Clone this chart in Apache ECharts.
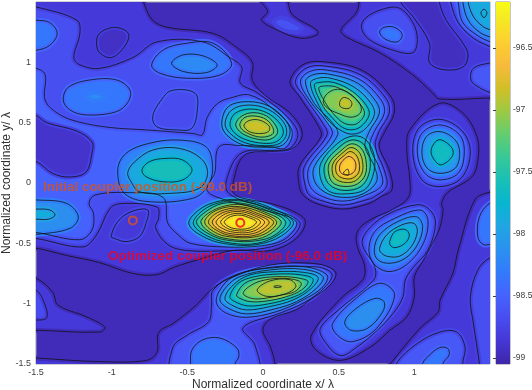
<!DOCTYPE html>
<html><head><meta charset="utf-8">
<style>html,body{margin:0;padding:0;background:#fff}#c{width:532px;height:390px}</style>
<script src="https://cdn.jsdelivr.net/npm/echarts@6/dist/echarts.min.js"></script>
</head><body><div id="c"></div>
<script>
// value scale of the colour bar
const scaleMin = -99.05, scaleMax = -96.13;
const colourTicks = [-99, -98.5, -98, -97.5, -97, -96.5];
const xTickLabels = [-1.5, -1, -0.5, 0, 0.5, 1];
const yTickLabels = [-1.5, -1, -0.5, 0, 0.5, 1];
const parulaStops = [[0,'#3e26a8'],[.0635,'#4537d5'],[.127,'#484df0'],[.19,'#4563fd'],[.254,'#327bfc'],[.317,'#2b91ef'],[.381,'#20a5e3'],[.444,'#08b5d0'],[.508,'#19bfb6'],[.571,'#37c897'],[.635,'#63cd6f'],[.698,'#9dc943'],[.762,'#d1bf27'],[.825,'#f8ba3d'],[.889,'#fccf30'],[.952,'#f5e924'],[1,'#f9fb15']];
const backgroundLevel = -98.98;
const couplers = [
  {name:'Initial coupler position (-99.0 dB)', at:[-0.86,-0.31], label:[-1.454,-0.033], color:'#d95319'},
  {name:'Optimized coupler position (-96.0 dB)', at:[-0.15,-0.33], label:[-1.025,-0.605], color:'#f00020'}
];
// contours: [level, [x,y, x,y, ...] in normalized coordinates, kind]
// kind: 'h' = closed low pocket, 's' = colour band without a drawn line
const lowRegions = [
 [-98.9,[-.81,1.58,-.79,1.5,-.73,1.35,-.63,1.29,-.33,1.24,-.17,1.12,-.07,1,-.07,.85,.03,.71,.18,.58,.26,.41,.2,.29,.05,.26,-.09,.25,-.15,.19,-.19,.04,-.2,-.07,-.15,-.12,.05,-.17,.21,-.24,.28,-.32,.22,-.46,.05,-.56,-.2,-.56,-.44,-.64,-.59,-.7,-.7,-.76,-.86,-.75,-1.08,-.66,-1.3,-.6,-1.5,-.54,-1.61,-.54,-1.61,1.58]],
 [-98.9,[-1.61,-1.44,-1.5,-1.45,-1.08,-1.48,-.77,-1.47,-.70,-1.4,-.69,-1.24,-.59,-1.16,-.44,-1.01,-.33,-.87,-.2,-.78,.046,-.68,.357,-.67,.48,-.74,.44,-.85,.31,-.97,.22,-1.05,.046,-1.13,0,-1.22,.05,-1.36,.08,-1.5,.08,-1.6,-1.61,-1.6]],
 [-98.9,[-1.61,-.79,-1.5,-.79,-1.39,-.904,-1.355,-1.011,-1.164,-1.11,-1.045,-1.194,-1.078,-1.235,-1.5,-1.22,-1.61,-1.22]],
 [-98.9,[-.01,1.55,-.01,1.5,.03,1.42,-.01,1.35,.09,1.27,.245,1.2,.357,1.227,.357,1.268,.198,1.39,.165,1.5,.165,1.55]],
 [-98.9,[.635,1.58,.635,1.5,.615,1.41,.515,1.27,.55,1.21,.77,1.08,.99,.895,1.12,.746,1.165,.696,1.5,.705,1.57,.705,1.57,1.58]],
 [-98.95,[.91,1.58,.91,1.5,.99,1.38,1.1,1.16,1.1,1,1.19,.94,1.32,.96,1.355,1.06,1.32,1.16,1.21,1.35,1.165,1.5,1.165,1.58],'h'],
 [-98.9,[1.165,.66,1.32,.58,1.415,.38,1.42,.19,1.38,.05,1.22,-.08,1.18,-.17,1.19,-.22,1.17,-.365,1.12,-.5,1.06,-.64,1,-.78,1,-.945,.95,-1.11,.84,-1.22,.71,-1.36,.51,-1.47,.35,-1.385,.32,-1.26,.515,-.955,.66,-.8,.67,-.68,.63,-.555,.615,-.45,.64,-.37,.73,-.29,.84,-.23,.96,-.12,.97,.025,.95,.27,.97,.44]],
 [-98.9,[1.5,-.075,1.4,-.14,1.29,-.555,1.255,-.746,1.17,-.97,1.157,-1.07,1.04,-1.2,.84,-1.5,.79,-1.59,1.57,-1.59,1.57,-.075]],
 [-98.7,[.07,1.335,.13,1.37,.26,1.285,.22,1.25,.13,1.27],'s']
];
const leftRegions = [
 [-98.72,[-1.61,1.48,-1.5,1.46,-1.23,1.35,-1.21,1.24,-1.25,1.04,-1.21,.98,-1.08,.95,-.86,1.04,-.7,1.17,-.4,1.17,-.22,1.04,-.14,.96,-.15,.83,-.04,.75,.16,.55,.23,.41,.18,.29,.05,.27,-.09,.27,-.17,.22,-.23,.07,-.24,-.06,-.15,-.14,-.01,-.19,.24,-.32,.18,-.46,.01,-.54,-.22,-.56,-.5,-.56,-.63,-.51,-.71,-.37,-.69,-.29,-.7,-.2,-.93,-.17,-1.01,-.21,-1.1,-.43,-1.19,-.53,-1.5,-.46,-1.61,-.46]],
 [-98.4,[-1.61,1.37,-1.5,1.35,-1.41,1.33,-1.36,1.24,-1.41,1.14,-1.5,1.1,-1.61,1.1]],
 [-98.56,[-1.61,.95,-1.5,.95,-1.44,.9,-1.44,.69,-1.36,.58,-1.23,.51,-1.01,.46,-.77,.44,-.46,.41,-.4,.4,-.37,.54,-.3,.66,-.2,.71,-.09,.73,.05,.63,.19,.44,.15,.29,.05,.3,-.15,.31,-.29,.3,-.32,.08,-.37,-.06,-.25,-.14,-.01,-.22,.22,-.32,.15,-.46,-.01,-.52,-.25,-.53,-.48,-.5,-.56,-.43,-.63,-.33,-.66,-.12,-.88,-.08,-1.11,-.1,-1.15,-.17,-1.12,-.25,-1.13,-.39,-1.21,-.47,-1.5,-.41,-1.61,-.41]],
 [-98.9,[-1.6,.6,-1.5,.56,-1.43,.5,-1.23,.43,-1.13,.34,-1.13,.25,-1.17,.09,-1.28,.05,-1.39,.08,-1.5,.18,-1.6,.2],'h'],
 [-98.93,[-1.1,1.16,-1.08,1.24,-.98,1.29,-.89,1.24,-.91,1.14,-1,1.04,-1.08,1.08],'h'],
 [-98.85,[-1.004,-.445,-.96,-.32,-.872,-.238,-.762,-.224,-.773,-.334,-.817,-.445,-.905,-.486,-.982,-.459],'h'],
 [-98.7,[-.729,.55,-.68,.674,-.604,.766,-.449,.744,-.434,.605,-.471,.453,-.57,.44,-.703,.467],'h'],
 [-98.4,[-1.32,.688,-1.287,.793,-1.143,.854,-.967,.854,-.879,.771,-.89,.674,-.967,.592,-1.165,.564,-1.276,.605]],
 [-98.22,[-1.165,.716,-1.11,.749,-1.044,.716,-1.11,.68],'s'],
 [-98.4,[-.736,.978,-.659,1.103,-.504,1.158,-.328,1.158,-.207,.992,-.284,.895,-.504,.868,-.68,.909]],
 [-98.25,[-.604,.993,-.527,1.062,-.395,1.053,-.303,.979,-.373,.915,-.527,.924]],
 [-98.2,[-1.6,-.14,-1.5,-.14,-1.297,-.169,-1.22,-.28,-1.275,-.376,-1.5,-.426,-1.6,-.426]],
 [-97.9,[-1.6,-.216,-1.5,-.216,-1.407,-.224,-1.374,-.266,-1.418,-.3,-1.5,-.3,-1.6,-.3]],
 [-98.75,[-1.61,-.887,-1.5,-.887,-1.44,-1.011,-1.43,-1.119,-1.5,-1.136,-1.61,-1.136]]
];
const coupledPeak = [
 [-98.3,[-.96,.108,-.905,.246,-.751,.329,-.553,.356,-.377,.301,-.333,.135,-.366,-.03,-.465,-.127,-.751,-.155,-.916,-.086]],
 [-97.95,[-.894,.086,-.85,.174,-.729,.273,-.553,.287,-.41,.204,-.366,.08,-.421,-.044,-.619,-.086,-.817,-.072,-.872,.011]],
 [-97.65,[-.8,.108,-.751,.177,-.641,.204,-.531,.191,-.469,.108,-.531,.025,-.663,.011,-.773,.052]]
];
const upperMidPeak = [
 [-98.15,[-.273,.494,-.229,.633,-.097,.674,.046,.633,.156,.508,.178,.41,.13,.315,.024,.296,-.13,.315,-.24,.398]],
 [-97.9,[-.251,.494,-.207,.605,-.097,.646,.035,.61,.134,.508,.156,.41,.112,.329,.013,.309,-.12,.334,-.218,.412]],
 [-97.65,[-.218,.494,-.185,.577,-.086,.613,.024,.583,.112,.494,.134,.41,.09,.343,.002,.329,-.12,.362,-.196,.425]],
 [-97.4,[-.18,.494,-.14,.555,-.064,.583,.024,.555,.086,.472,.095,.41,.046,.362,-.03,.362,-.12,.398,-.167,.445]],
 [-97.15,[-.152,.494,-.119,.544,-.053,.555,.02,.527,.064,.461,.068,.412,.024,.384,-.037,.384,-.108,.417,-.145,.453]],
 [-96.9,[-.126,.48,-.086,.52,-.02,.52,.042,.47,.035,.425,-.03,.41,-.097,.43]]
];
const centralPeak = [
 [-98,[-.49,-.34,-.42,-.22,-.29,-.15,-.13,-.14,.04,-.2,.2,-.32,.12,-.44,-.04,-.51,-.21,-.51,-.37,-.46]],
 [-97.75,[-.46,-.34,-.4,-.23,-.28,-.16,-.13,-.15,.02,-.21,.18,-.32,.1,-.43,-.04,-.5,-.2,-.5,-.35,-.45]],
 [-97.5,[-.44,-.33,-.38,-.24,-.27,-.17,-.13,-.17,.01,-.22,.15,-.32,.08,-.43,-.05,-.48,-.2,-.48,-.33,-.44]],
 [-97.25,[-.41,-.33,-.36,-.25,-.25,-.19,-.13,-.18,-.01,-.23,.12,-.32,.05,-.42,-.06,-.47,-.19,-.47,-.32,-.43]],
 [-97,[-.385,-.33,-.34,-.25,-.24,-.2,-.13,-.2,-.02,-.24,.09,-.32,.03,-.41,-.07,-.45,-.19,-.45,-.3,-.42]],
 [-96.8,[-.36,-.33,-.32,-.26,-.23,-.215,-.135,-.21,-.04,-.25,.07,-.32,.01,-.4,-.08,-.44,-.185,-.44,-.28,-.41]],
 [-96.65,[-.335,-.33,-.3,-.27,-.225,-.23,-.14,-.225,-.05,-.26,.04,-.32,-.01,-.39,-.09,-.425,-.18,-.425,-.27,-.4]],
 [-96.5,[-.31,-.33,-.276,-.276,-.214,-.242,-.14,-.239,-.065,-.267,.01,-.32,-.03,-.379,-.098,-.41,-.177,-.41,-.25,-.388]],
 [-96.4,[-.28,-.328,-.254,-.285,-.2,-.256,-.142,-.254,-.08,-.277,-.017,-.32,-.05,-.37,-.107,-.395,-.172,-.395,-.234,-.377]],
 [-96.3,[-.256,-.327,-.234,-.292,-.193,-.27,-.144,-.267,-.094,-.286,-.043,-.321,-.07,-.36,-.116,-.381,-.168,-.381,-.218,-.367]]
];
const twinPeak = [
 [-98.9,[.178,.841,.262,.979,.394,1.006,.658,.932,.845,.717,.867,.579,.8,.413,.768,.303,.834,.109,.852,-.056,.779,-.114,.702,-.169,.526,-.216,.35,-.169,.266,-.1,.24,-.029,.24,.137,.383,.385,.361,.482,.24,.717]],
 [-98.65,[.214,.841,.284,.951,.405,.97,.647,.896,.812,.703,.834,.579,.768,.427,.742,.303,.801,.109,.817,-.029,.736,-.114,.68,-.141,.526,-.183,.372,-.141,.306,-.1,.28,-.029,.273,.137,.423,.399,.394,.496,.273,.717]],
 [-98.4,[.247,.841,.306,.923,.416,.937,.637,.86,.78,.689,.802,.579,.736,.427,.707,.303,.769,.123,.787,-.015,.68,-.1,.526,-.15,.372,-.1,.306,-.015,.306,.137,.456,.399,.427,.496,.306,.689]],
 [-98.15,[.28,.841,.328,.896,.427,.904,.626,.827,.747,.675,.769,.579,.703,.427,.674,.303,.736,.137,.751,.013,.66,-.09,.55,-.12,.43,-.09,.346,0,.339,.137,.493,.399,.46,.496,.339,.661]],
 [-97.9,[.313,.827,.361,.868,.449,.868,.603,.794,.713,.661,.736,.565,.669,.441,.596,.405,.527,.427,.438,.51,.372,.634]],
 [-97.65,[.339,.813,.383,.835,.471,.832,.592,.758,.68,.648,.702,.565,.647,.468,.588,.441,.526,.46,.46,.537,.398,.634]],
 [-97.4,[.368,.786,.412,.805,.487,.794,.582,.73,.654,.634,.67,.565,.626,.496,.582,.482,.527,.501,.472,.565,.421,.648]],
 [-97.15,[.398,.675,.427,.744,.493,.777,.57,.744,.643,.648,.643,.579,.581,.545,.493,.579,.427,.62]],
 [-96.9,[.508,.675,.53,.708,.57,.694,.588,.656,.57,.62,.53,.62,.508,.639]],
 [-97.8,[.597,.39,.68,.358,.736,.22,.725,.054,.67,-.056,.549,-.09,.438,-.07,.383,.027,.383,.165,.494,.33]],
 [-97.5,[.588,.357,.663,.325,.707,.206,.698,.068,.648,-.029,.549,-.062,.46,-.034,.412,.04,.412,.165,.509,.303]],
 [-97.2,[.586,.325,.648,.289,.68,.192,.676,.068,.625,-.007,.549,-.029,.471,-.007,.438,.054,.438,.165,.522,.275]],
 [-96.95,[.581,.294,.632,.261,.658,.178,.654,.082,.61,.018,.549,.004,.486,.027,.46,.076,.464,.165,.53,.253]],
 [-96.75,[.574,.261,.614,.234,.636,.165,.632,.087,.592,.04,.549,.035,.504,.054,.482,.095,.486,.165,.537,.228]],
 [-96.55,[.57,.22,.603,.192,.614,.142,.603,.095,.57,.068,.537,.068,.509,.095,.509,.15,.537,.198]],
 [-96.4,[.531,.082,.56,.115,.566,.068]]
];
const bottomPeak = [
 [-98.65,[-.595,-1.59,-.595,-1.36,-.5,-1.26,-.36,-1.15,-.34,-1.01,-.33,-.887,-.185,-.763,.046,-.705,.357,-.696,.456,-.754,.41,-.862,.278,-.987,.112,-1.078,-.132,-1.2,-.053,-1.343,-.04,-1.59]],
 [-98.4,[-.48,-1.6,-.48,-1.5,-.47,-1.385,-.4,-1.3,-.284,-1.285,-.172,-1.368,-.16,-1.44,-.185,-1.5,-.185,-1.6]],
 [-98.4,[-.307,-.997,-.285,-.887,-.197,-.776,.001,-.707,.265,-.693,.423,-.762,.397,-.859,.265,-.969,.089,-1.066,-.109,-1.113,-.241,-1.08]],
 [-98.15,[-.285,-.969,-.241,-.859,-.153,-.776,.045,-.721,.265,-.715,.397,-.776,.353,-.873,.221,-.983,.067,-1.047,-.109,-1.085,-.23,-1.038]],
 [-97.9,[-.252,-.956,-.197,-.845,-.087,-.762,.089,-.735,.265,-.74,.364,-.782,.32,-.873,.199,-.969,.045,-1.024,-.109,-1.052,-.208,-1.011]],
 [-97.65,[-.219,-.942,-.164,-.831,-.054,-.776,.111,-.754,.254,-.762,.331,-.798,.287,-.887,.177,-.956,.034,-1.002,-.098,-1.019,-.186,-.983]],
 [-97.4,[-.175,-.928,-.12,-.831,-.021,-.79,.122,-.776,.243,-.79,.298,-.818,.254,-.887,.155,-.942,.023,-.978,-.087,-.983,-.153,-.956]],
 [-97.15,[-.131,-.914,-.076,-.845,.012,-.804,.133,-.79,.232,-.809,.254,-.84,.21,-.9,.122,-.928,.012,-.956,-.076,-.956]],
 [-96.95,[-.039,-.887,.045,-.812,.177,-.801,.217,-.859,.144,-.92,.023,-.939]],
 [-96.9,[.071,-.859,.093,-.851,.122,-.859,.093,-.867]]
];
const rightPeaks = [
 [-98.65,[.655,-.5,.71,-.365,.84,-.25,1.02,-.18,1.1,-.22,1.14,-.33,1.09,-.555,.99,-.705,.94,-.805,.925,-.945,.86,-1.08,.755,-1.22,.62,-1.36,.51,-1.43,.4,-1.3,.38,-1.2,.51,-1.04,.73,-.805,.74,-.7]],
 [-98.4,[.7,-.555,.74,-.4,.87,-.293,1.04,-.224,1.09,-.307,1.06,-.5,.96,-.665,.84,-.734,.74,-.68]],
 [-98.15,[.735,-.555,.77,-.43,.89,-.32,1.015,-.28,1.055,-.362,1.02,-.514,.94,-.624,.84,-.665,.76,-.638]],
 [-97.9,[.77,-.541,.817,-.43,.916,-.348,.997,-.334,1.02,-.403,.98,-.527,.905,-.605,.83,-.61,.784,-.583]],
 [-97.7,[.84,-.472,.872,-.403,.938,-.384,.967,-.431,.938,-.5,.872,-.536,.84,-.514]],
 [-98.4,[.46,-1.163,.49,-1.26,.59,-1.315,.75,-1.205,.87,-.93,.78,-.83,.64,-.93]],
 [-98.2,[.54,-1.15,.58,-1.22,.69,-1.205,.79,-1.07,.8,-.984,.74,-.956,.615,-1.04]],
 [-98.65,[.99,.247,1.03,.454,1.17,.528,1.32,.426,1.37,.247,1.31,.04,1.17,-.03,1.05,.026]],
 [-98.4,[1.02,.247,1.05,.412,1.17,.481,1.3,.398,1.33,.247,1.29,.08,1.17,.026,1.07,.08]],
 [-98.1,[1.05,.247,1.08,.385,1.17,.426,1.27,.357,1.3,.247,1.27,.122,1.17,.08,1.085,.122]],
 [-97.7,[1.11,.26,1.14,.343,1.18,.357,1.25,.288,1.25,.219,1.18,.15,1.14,.178]],
 [-98.72,[1.5,-.62,1.42,-.72,1.37,-.945,1.39,-1.16,1.43,-1.5,1.43,-1.59,1.57,-1.59,1.57,-.62]],
 [-98.4,[1.57,-.166,1.5,-.166,1.43,-.28,1.42,-.45,1.455,-.51,1.5,-.51,1.57,-.51]],
 [-98.65,[.885,-1.6,.885,-1.49,1.02,-1.33,1.17,-1.235,1.28,-1.235,1.335,-1.36,1.32,-1.49,1.32,-1.6]],
 [-98.4,[1.055,-1.6,1.055,-1.495,1.1,-1.426,1.165,-1.365,1.22,-1.37,1.23,-1.426,1.19,-1.495,1.19,-1.6]],
 [-98.72,[.65,1.29,.68,1.37,.79,1.44,.9,1.45,.99,1.33,1.02,1.19,.99,1.08,.86,1.1,.7,1.19]],
 [-98.4,[.77,1.25,.8,1.29,.87,1.29,.92,1.23,.89,1.17,.81,1.19]],
 [-98.65,[1.57,1,1.5,.995,1.39,.95,1.375,.85,1.43,.79,1.5,.75,1.57,.74]],
 [-98.65,[1.24,1.58,1.24,1.5,1.29,1.33,1.39,1.2,1.5,1.13,1.57,1.1,1.57,1.58]],
 [-98.4,[1.29,1.58,1.29,1.5,1.32,1.33,1.42,1.22,1.5,1.17,1.57,1.15,1.57,1.58]],
 [-98.15,[1.32,1.58,1.32,1.5,1.355,1.35,1.43,1.25,1.5,1.21,1.57,1.19,1.57,1.58]],
 [-97.95,[1.355,1.58,1.355,1.5,1.39,1.38,1.45,1.3,1.5,1.27,1.57,1.25,1.57,1.58]],
 [-97.8,[1.44,1.41,1.46,1.44,1.48,1.41,1.46,1.37]]
];
const contours = [...lowRegions, ...leftRegions, ...coupledPeak, ...upperMidPeak, ...centralPeak, ...twinPeak, ...bottomPeak, ...rightPeaks];

function hexRgb(h){return [1,3,5].map(i=>parseInt(h.substr(i,2),16));}
function parula(level){
  const t=Math.min(1,Math.max(0,(level-scaleMin)/(scaleMax-scaleMin)));
  for(let i=1;i<parulaStops.length;i++){
    if(t<=parulaStops[i][0]){
      const a=parulaStops[i-1],b=parulaStops[i],k=(t-a[0])/(b[0]-a[0]);
      const ca=hexRgb(a[1]),cb=hexRgb(b[1]);
      return 'rgb('+ca.map((v,j)=>Math.round(v+(cb[j]-v)*k)).join(',')+')';
    }
  }
  return parulaStops[parulaStops.length-1][1];
}
function ringPoints(pts,api){const o=[];for(let i=0;i<pts.length;i+=2)o.push(api.coord([pts[i],pts[i+1]]));return o;}
const contourData = contours.map(c=>[c[1][0],c[1][1],c[0]]);
const textFont = '"Liberation Sans",Arial,sans-serif';
const curve = 0.36;
const chart = echarts.init(document.getElementById('c'),null,{renderer:'canvas'});
chart.setOption({
  animation:false,
  backgroundColor:'#fff',
  grid:[
    {left:36,top:2,width:454,height:362,outerBoundsMode:'none',containLabel:false,show:true,backgroundColor:parula(backgroundLevel),borderColor:'#a0a0a0',borderWidth:1,z:0},
    {left:496,top:2,width:14,height:362,outerBoundsMode:'none',containLabel:false,show:true,borderColor:'#909090',borderWidth:1}
  ],
  xAxis:[
    {gridIndex:0,type:'value',min:-1.5,max:1.5,interval:.5,splitLine:{show:false},axisLine:{show:false},axisTick:{show:false},
     axisLabel:{customValues:xTickLabels,color:'#404040',fontSize:9,fontFamily:textFont,margin:4,hideOverlap:false},
     name:'Normalized coordinate x/ λ',nameLocation:'middle',nameGap:15,nameMoveOverlap:false,nameTextStyle:{color:'#303030',fontSize:12,fontFamily:textFont}},
    {gridIndex:1,type:'value',min:0,max:1,show:false}
  ],
  yAxis:[
    {gridIndex:0,type:'value',min:-1.5,max:1.5,interval:.5,splitLine:{show:false},axisLine:{show:false},axisTick:{show:false},
     axisLabel:{customValues:yTickLabels,color:'#404040',fontSize:9,fontFamily:textFont,margin:5,hideOverlap:false},
     name:'Normalized coordinate y/ λ',nameLocation:'middle',nameGap:23,nameMoveOverlap:false,nameTextStyle:{color:'#303030',fontSize:12,fontFamily:textFont}},
    {gridIndex:1,type:'value',position:'right',min:scaleMin,max:scaleMax,splitLine:{show:false},axisLine:{show:false},
     axisTick:{show:true,inside:true,length:3,customValues:colourTicks,lineStyle:{color:'#404040',width:1}},
     axisLabel:{customValues:colourTicks,color:'#404040',fontSize:8.5,fontFamily:textFont,margin:3,hideOverlap:false,formatter:v=>String(v)}}
  ],
  series:[
    {type:'custom',xAxisIndex:0,yAxisIndex:0,coordinateSystem:'cartesian2d',clip:true,silent:true,z:2,data:contourData,
     encode:{x:0,y:1},
     renderItem(params,api){
       const c=contours[params.dataIndex];
       const lift=c[2]==='h'?0.11:-0.08;
       return {type:'polygon',shape:{points:ringPoints(c[1],api),smooth:curve},
         style:{fill:parula(c[0]+(c[2]==='h'?0:0.06)),stroke:parula(c[0]+lift),lineWidth:c[2]==='s'?4:5,lineJoin:'round'}};
     }},
    {type:'custom',xAxisIndex:0,yAxisIndex:0,coordinateSystem:'cartesian2d',clip:true,silent:true,z:3,data:contourData,
     encode:{x:0,y:1},
     renderItem(params,api){
       const c=contours[params.dataIndex];
       if(c[2]==='s') return null;
       return {type:'polygon',shape:{points:ringPoints(c[1],api),smooth:curve},
         style:{fill:'none',stroke:'#101018',lineWidth:0.8}};
     }},
    {type:'scatter',xAxisIndex:0,yAxisIndex:0,silent:true,z:5,symbol:'circle',symbolSize:8,
     data:couplers.map(c=>({name:c.name,value:c.at,itemStyle:{color:'transparent',borderColor:c.color,borderWidth:2}}))},
    {type:'scatter',xAxisIndex:0,yAxisIndex:0,silent:true,z:6,symbolSize:0,
     data:couplers.map(c=>({name:c.name,value:c.label,label:{show:true,position:'right',distance:0,formatter:c.name,color:c.color,fontSize:13.5,fontWeight:'bold',fontFamily:textFont}}))},
    {type:'custom',xAxisIndex:1,yAxisIndex:1,coordinateSystem:'cartesian2d',silent:true,z:1,data:[[0,scaleMin]],encode:{x:0,y:1},
     renderItem(params,api){
       const a=api.coord([0,scaleMax]),b=api.coord([1,scaleMin]);
       return {type:'rect',shape:{x:a[0],y:a[1],width:b[0]-a[0],height:b[1]-a[1]},
         style:{fill:new echarts.graphic.LinearGradient(0,1,0,0,parulaStops.map(s=>({offset:s[0],color:s[1]})))}};
     }}
  ]
});
</script></body></html>
